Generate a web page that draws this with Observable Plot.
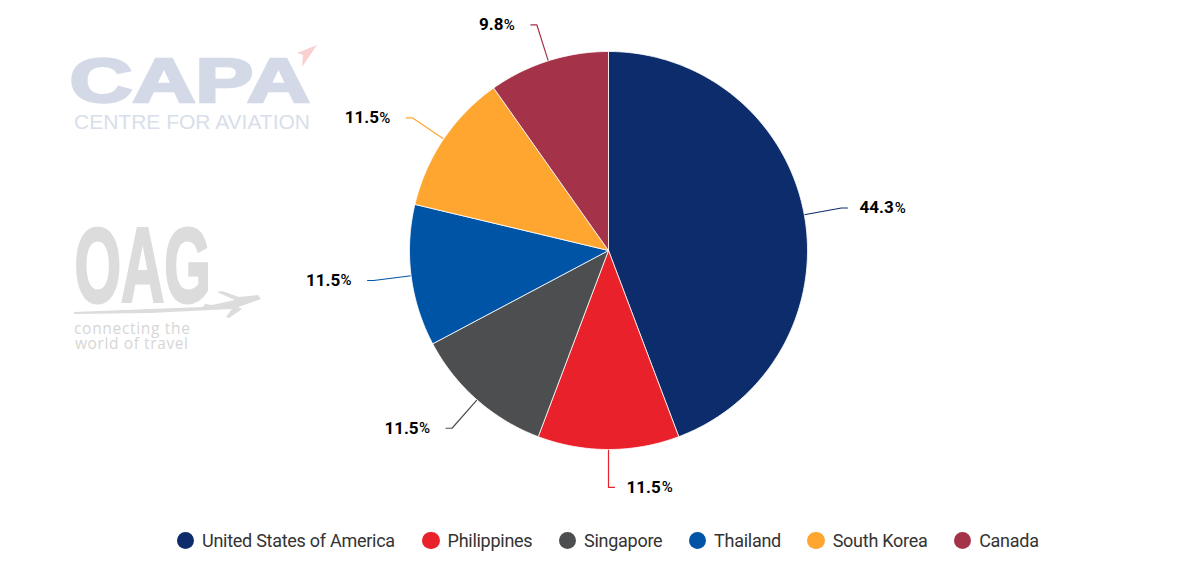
<!DOCTYPE html>
<html>
<head>
<meta charset="utf-8">
<script src="https://cdn.jsdelivr.net/npm/d3@7"></script>
<script src="https://cdn.jsdelivr.net/npm/@observablehq/plot@0.6"></script>
<style>
html,body{margin:0;padding:0;background:#fff;overflow:hidden}
#wrap{position:relative;width:1187px;height:567px}
#logos{position:absolute;left:0;top:0;pointer-events:none}
#legend{position:absolute;left:176.5px;top:530px;display:flex;align-items:center;gap:26.2px;font:18px Roboto,sans-serif;letter-spacing:-0.27px;color:#333;white-space:nowrap}
#legend .it{display:flex;align-items:center;gap:8px}
#legend .it:first-child{margin-right:1px}
#legend .sw{width:17.5px;height:17.5px;border-radius:50%;display:inline-block}
</style>
</head>
<body>
<div id="wrap">
<div id="chart"></div>
<svg id="logos" width="1187" height="567" aria-hidden="true">
  <text transform="translate(69.5,102) scale(1.405,1)" font-family="Liberation Sans" font-weight="700" font-size="62" fill="#d3d9e6" stroke="#d3d9e6" stroke-width="2.6">CAPA</text>
  <polygon points="317,45 297,53 303,55 302,67" fill="#f8d0d0"/>
  <text x="74" y="128.5" font-family="Liberation Sans" font-size="21" fill="#d8deea" textLength="236" lengthAdjust="spacingAndGlyphs">CENTRE FOR AVIATION</text>
  <text transform="translate(74.5,302) scale(.565,1)" font-family="Liberation Sans" font-weight="700" font-size="106" fill="#dcdcdc" stroke="#dcdcdc" stroke-width="3">OAG</text>
  <polygon points="74,312 150,309 203,307 205,304 212,305 235,300 217,292 222,291 239,297 258,295 261,299 250,303 238,307 242,309 229,318 226,317 232,309 150,313 74,314" fill="#dcdcdc"/>
  <text x="74" y="334" font-family="Open Sans" font-size="15.5" fill="#d6d6d6" textLength="116">connecting the</text>
  <text x="75" y="348.5" font-family="Open Sans" font-size="15.5" fill="#d6d6d6" textLength="113">world of travel</text>
</svg>
<div id="legend"></div>
</div>
<script>
const categories = ["United States of America","Philippines","Singapore","Thailand","South Korea","Canada"];
const shares = [44.3,11.5,11.5,11.5,11.5,9.8];
const colors = ["#0c2c6c","#e8212a","#4d4e50","#0054a6","#ffa630","#a43349"];

const total = d3.sum(shares);
const polar = (deg, r) => [r*Math.sin(deg*Math.PI/180), r*Math.cos(deg*Math.PI/180)];
const perPx = 1/199;
let cum = 0;
const wedges = [], leaders = [], labels = [];
categories.forEach((name,i)=>{
  const a0 = cum/total*360, a1 = (cum+shares[i])/total*360;
  cum += shares[i];
  const ring = [[0,0]];
  const n = Math.ceil(a1-a0);
  for (let k=0;k<=n;k++){ ring.push(polar(a0+(a1-a0)*k/n,1)); }
  ring.push([0,0]);
  ring.forEach(p=>wedges.push({name,x:p[0],y:p[1]}));
  const mid=(a0+a1)/2, [ex,ey]=polar(mid,1), [bx,by]=polar(mid,1.19);
  const right = Math.sin(mid*Math.PI/180) > -1e-6;
  const side = right?1:-1;
  [[ex,ey],[bx,by],[bx+side*6*perPx,by]].forEach(p=>leaders.push({name,x:p[0],y:p[1]}));
  labels.push({name,x:bx+side*(right?18:22)*perPx,y:by,side,num:shares[i].toFixed(1),pct:"%"});
});
const right = labels.filter(d=>d.side>0), left = labels.filter(d=>d.side<0);
const numStyle = {fill:"#000",fontFamily:"Roboto",fontWeight:700,fontSize:17};
const pctStyle = {fill:"#000",fontFamily:"Roboto",fontWeight:500,fontSize:15};

const chart = Plot.plot({
  width:1187,height:520,margin:0,
  style:{background:"transparent"},
  x:{domain:[-1,1],range:[409,807],axis:null},
  y:{domain:[-1,1],range:[449,51],axis:null},
  color:{domain:categories,range:colors},
  marks:[
    Plot.line(leaders,{x:"x",y:"y",z:"name",stroke:"name",strokeWidth:1.2,curve:"linear"}),
    Plot.line(wedges,{x:"x",y:"y",z:"name",fill:"name",stroke:"#fff",strokeWidth:0.8,strokeLinejoin:"round",curve:"linear"}),
    Plot.text(right,{x:"x",y:"y",text:"num",textAnchor:"start",...numStyle}),
    Plot.text(right,{x:"x",y:"y",text:"pct",textAnchor:"start",dx:35.2,...pctStyle}),
    Plot.text(left,{x:"x",y:"y",text:"num",textAnchor:"end",dx:-11.4,...numStyle}),
    Plot.text(left,{x:"x",y:"y",text:"pct",textAnchor:"end",...pctStyle})
  ]
});
document.getElementById("chart").appendChild(chart);

const legend = d3.select("#legend");
categories.forEach((name,i)=>{
  const it = legend.append("div").attr("class","it");
  it.append("span").attr("class","sw").style("background",colors[i]);
  it.append("span").text(name);
});
</script>
</body>
</html>
